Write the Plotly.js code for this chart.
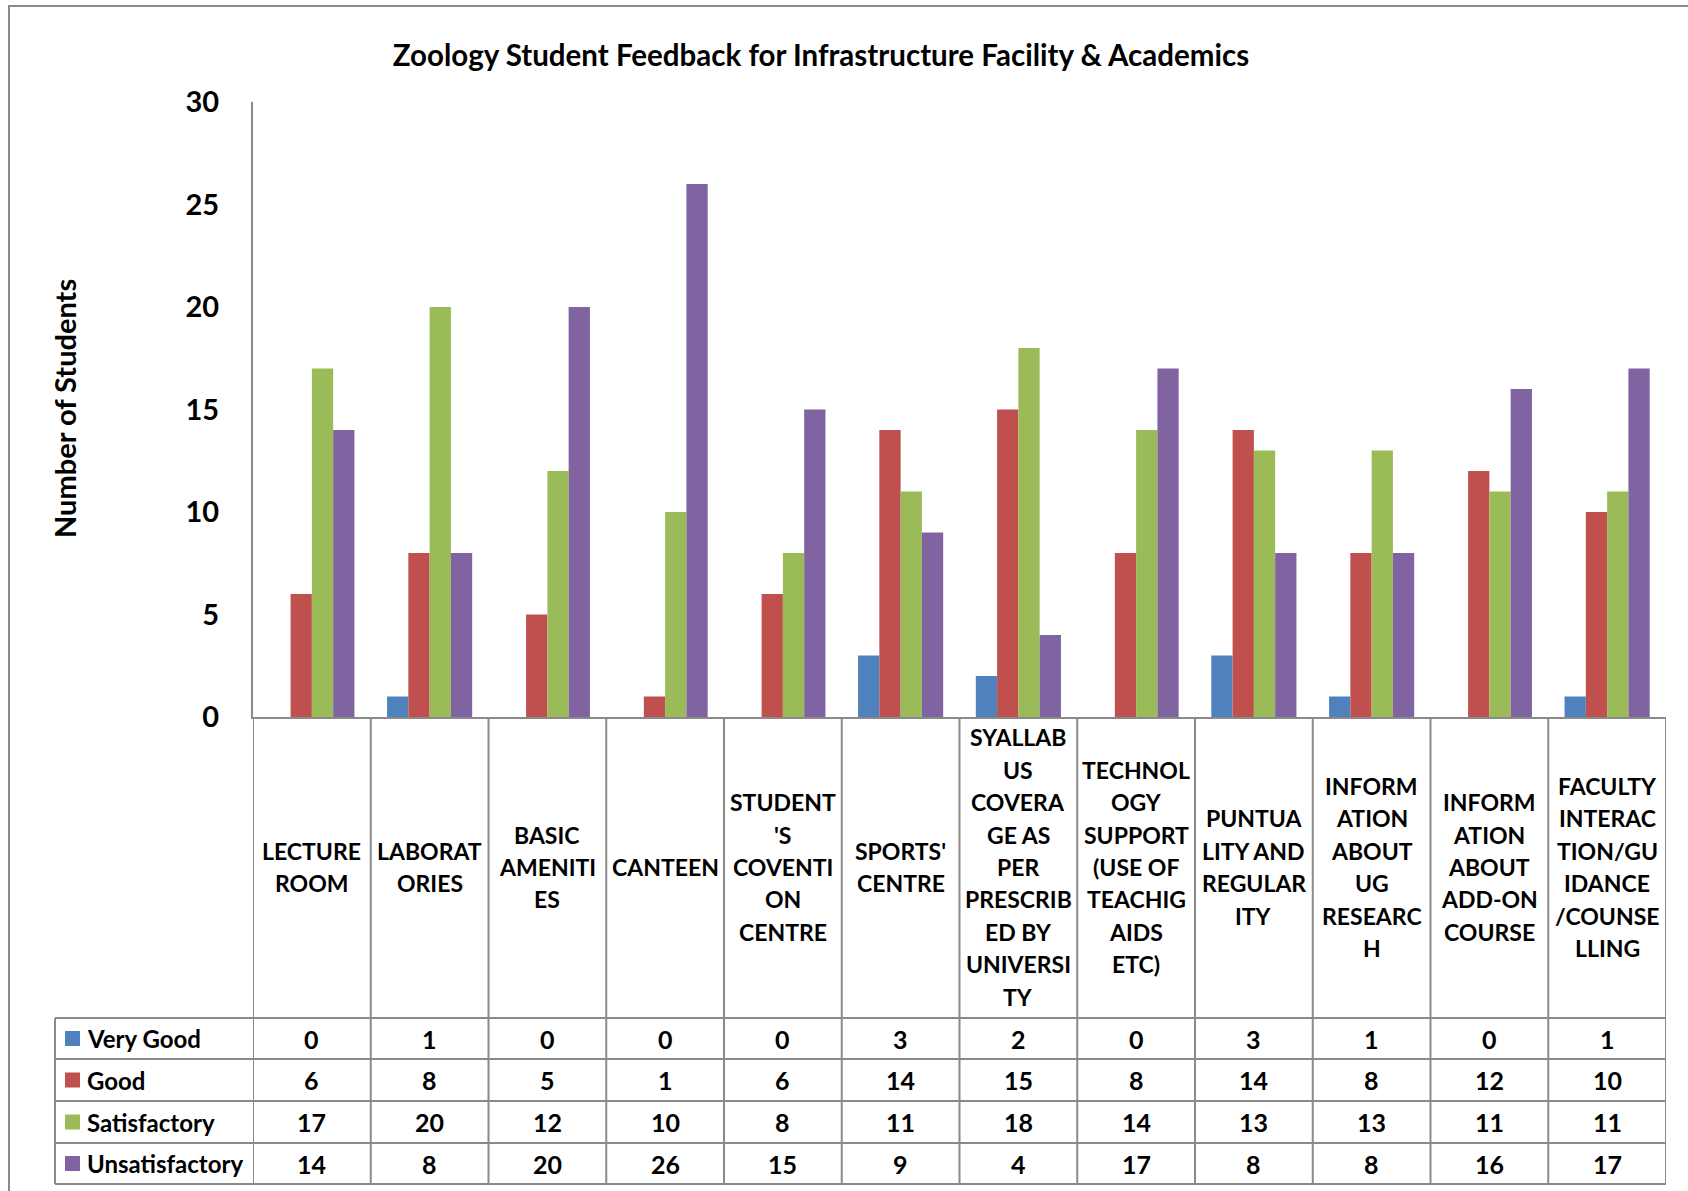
<!DOCTYPE html>
<html>
<head>
<meta charset="utf-8">
<script src="https://cdn.plot.ly/plotly-3.0.1.min.js"></script>
<style>body{margin:0;background:#fff}#plot{width:1688px;height:1191px}</style>
</head>
<body>
<div id="plot"></div>
<script>
// category labels, wrapped the way the sheet wrapped them
var categories = [
    "LECTURE<br>ROOM",
    "LABORAT<br>ORIES",
    "BASIC<br>AMENITI<br>ES",
    "CANTEEN",
    "STUDENT<br>'S<br>COVENTI<br>ON<br>CENTRE",
    "SPORTS'<br>CENTRE",
    "SYALLAB<br>US<br>COVERA<br>GE AS<br>PER<br>PRESCRIB<br>ED BY<br>UNIVERSI<br>TY",
    "TECHNOL<br>OGY<br>SUPPORT<br>(USE OF<br>TEACHIG<br>AIDS<br>ETC)",
    "PUNTUA<br>LITY AND<br>REGULAR<br>ITY",
    "INFORM<br>ATION<br>ABOUT<br>UG<br>RESEARC<br>H",
    "INFORM<br>ATION<br>ABOUT<br>ADD-ON<br>COURSE",
    "FACULTY<br>INTERAC<br>TION/GU<br>IDANCE<br>/COUNSE<br>LLING"
];

var seriesNames = ["Very Good", "Good", "Satisfactory", "Unsatisfactory"];
var veryGood = [0, 1, 0, 0, 0, 3, 2, 0, 3, 1, 0, 1];
var good = [6, 8, 5, 1, 6, 14, 15, 8, 14, 8, 12, 10];
var satisfactory = [17, 20, 12, 10, 8, 11, 18, 14, 13, 13, 11, 11];
var unsatisfactory = [14, 8, 20, 26, 15, 9, 4, 17, 8, 8, 16, 17];
var seriesValues = [veryGood, good, satisfactory, unsatisfactory];
var colors = ["#4F81BD", "#C0504D", "#9BBB59", "#8064A2"];

// page geometry (pixels)
var W = 1688, H = 1191;
var L = 253, R = 1666, T = 102, B = 717;
function xp(px) { return (px - L) / (R - L); }
function yp(py) { return (B - py) / (B - T); }

var FONT = "Lato, 'Open Sans', sans-serif";
var GRID = "#8a8a8a";

var data = seriesNames.map(function (name, k) {
    return {
        x: categories,
        y: seriesValues[k],
        name: name,
        type: "bar",
        marker: {color: colors[k]},
        hoverinfo: "skip"
    };
});

// table rows below the chart
var rowLines = [1018, 1059, 1101, 1143, 1184];
var shapes = [];
var annotations = [];

// outer chart frame
shapes.push({type: "rect", xref: "paper", yref: "paper",
    x0: xp(9), x1: xp(1760), y0: yp(6), y1: yp(1260),
    line: {color: GRID, width: 2}});

rowLines.forEach(function (py) {
    shapes.push({type: "line", xref: "paper", yref: "paper",
        x0: xp(55), x1: xp(R), y0: yp(py), y1: yp(py),
        line: {color: GRID, width: 2}});
});
shapes.push({type: "line", xref: "paper", yref: "paper",
    x0: xp(55), x1: xp(55), y0: yp(1018), y1: yp(1184),
    line: {color: GRID, width: 2}});
for (var i = 0; i <= categories.length; i++) {
    shapes.push({type: "line", xref: "x", yref: "paper",
        x0: i - 0.5, x1: i - 0.5, y0: yp(B), y1: yp(1184),
        line: {color: GRID, width: 2}});
}

// category labels, one annotation per wrapped line so the spacing matches
var lineStep = 32.4, labelMid = 867;
categories.forEach(function (c) {
    var lines = c.split("<br>");
    lines.forEach(function (t, n) {
        var py = labelMid + (n - (lines.length - 1) / 2) * lineStep;
        annotations.push({x: c, xref: "x", y: yp(py), yref: "paper",
            text: t, showarrow: false, xanchor: "center", yanchor: "middle",
            font: {family: FONT, size: 23, color: "#000", weight: "bold"}});
    });
});

// legend keys and values
seriesNames.forEach(function (name, k) {
    var top = rowLines[k], bot = rowLines[k + 1];
    var mid = (top + bot) / 2;
    shapes.push({type: "rect", xref: "paper", yref: "paper",
        x0: xp(65), x1: xp(80), y0: yp(mid - 7.5), y1: yp(mid + 7.5),
        fillcolor: colors[k], line: {width: 0}});
    annotations.push({x: xp(85), xref: "paper", y: yp(mid), yref: "paper",
        text: name, showarrow: false, xanchor: "left", yanchor: "middle",
        font: {family: FONT, size: 24, color: "#000", weight: "bold"}});
    seriesValues[k].forEach(function (v, j) {
        annotations.push({x: categories[j], xref: "x", y: yp(mid), yref: "paper",
            text: String(v), showarrow: false, xanchor: "center", yanchor: "middle",
            font: {family: FONT, size: 25, color: "#000", weight: "bold"}});
    });
});

// y axis title
annotations.push({x: xp(64), xref: "paper", y: yp(409), yref: "paper",
    text: "Number of Students", textangle: -90, showarrow: false,
    xanchor: "center", yanchor: "middle",
    font: {family: FONT, size: 29, color: "#000", weight: "bold"}});

var layout = {
    width: W,
    height: H,
    margin: {l: L, r: W - R, t: T, b: H - B, pad: 0},
    paper_bgcolor: "#fff",
    plot_bgcolor: "#fff",
    showlegend: false,
    barmode: "group",
    bargap: 0.277,
    bargroupgap: 0,
    title: {
        text: "Zoology Student Feedback for Infrastructure Facility & Academics",
        font: {family: FONT, size: 29.5, color: "#000", weight: "bold"},
        xref: "container", yref: "container",
        x: 821 / W, xanchor: "center",
        y: 1 - 56 / H, yanchor: "middle"
    },
    xaxis: {
        type: "category",
        range: [-0.5, 11.5],
        showticklabels: false,
        ticks: "",
        showgrid: false,
        zeroline: false,
        showline: true,
        linecolor: GRID,
        linewidth: 2
    },
    yaxis: {
        range: [0, 30],
        dtick: 5,
        ticks: "",
        showgrid: false,
        zeroline: false,
        showline: true,
        linecolor: GRID,
        linewidth: 2,
        ticklabelstandoff: 26,
        tickfont: {family: FONT, size: 29, color: "#000", weight: "bold"}
    },
    shapes: shapes,
    annotations: annotations
};

Plotly.newPlot("plot", data, layout, {staticPlot: true});
</script>
</body>
</html>
